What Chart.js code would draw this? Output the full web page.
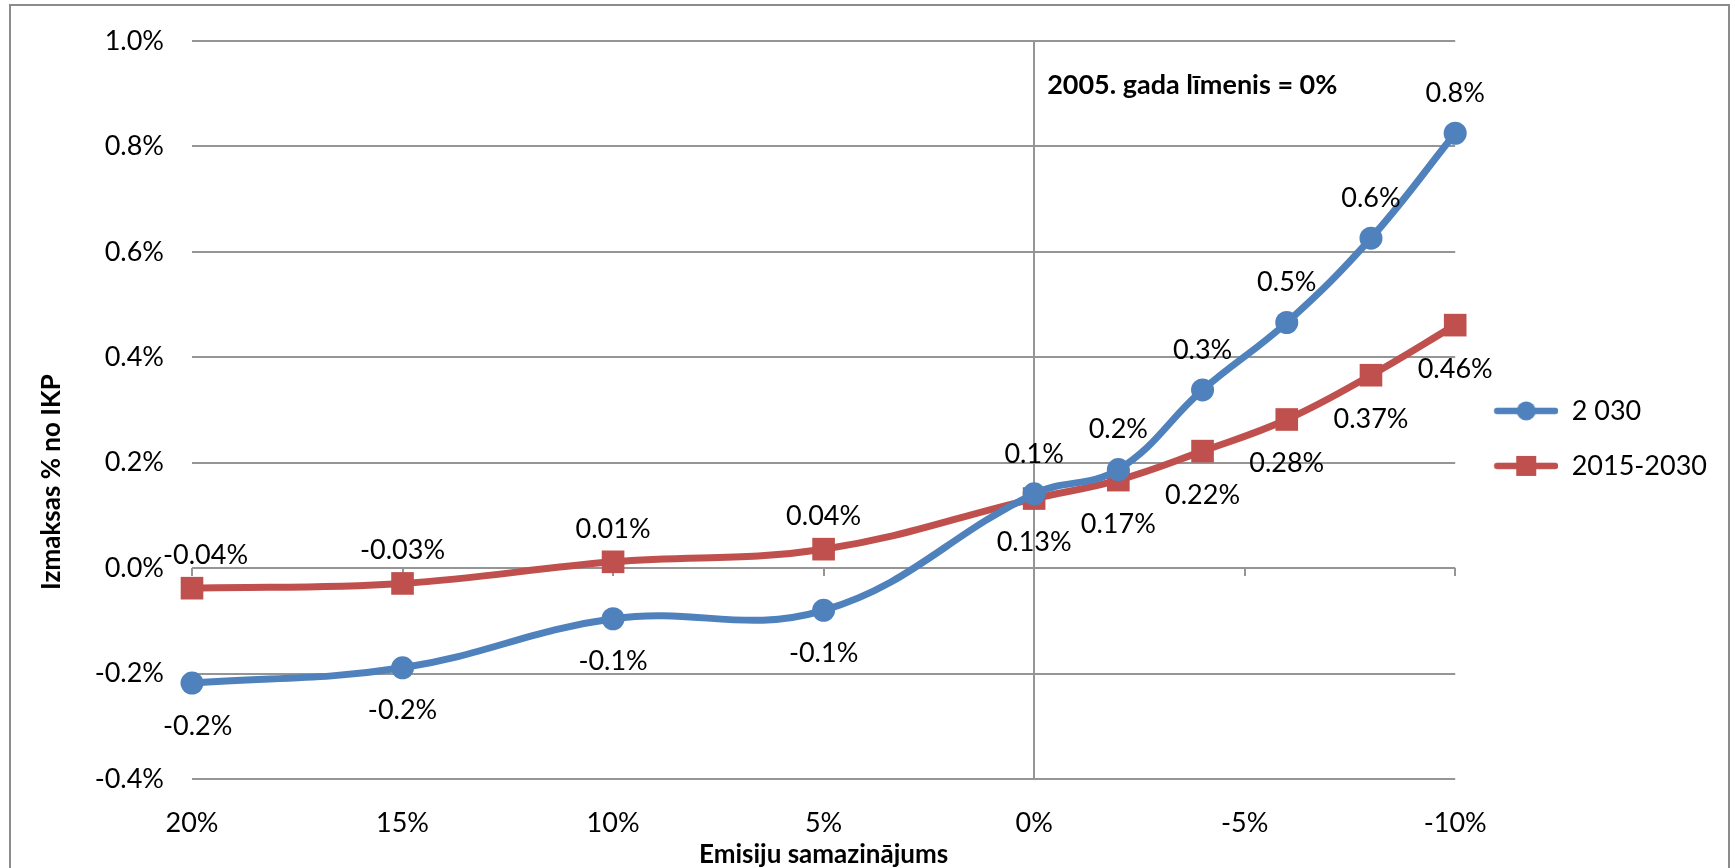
<!DOCTYPE html>
<html>
<head>
<meta charset="utf-8">
<script src="https://cdn.jsdelivr.net/npm/chart.js@4.4.1/dist/chart.umd.min.js"></script>
<style>
  html, body { margin: 0; padding: 0; background: #ffffff; }
  canvas { display: block; }
</style>
</head>
<body>
<canvas id="chart" width="1735" height="868"></canvas>
<script>
// Emission reduction relative to 2005 (percent) and cost as % of GDP
const emissionCuts = [20, 15, 10, 5, 0, -2, -4, -6, -8, -10];
const cost2030 = [-0.218, -0.189, -0.096, -0.080, 0.141, 0.187, 0.338, 0.466, 0.626, 0.825];
const cost2015to2030 = [-0.038, -0.029, 0.012, 0.036, 0.132, 0.167, 0.222, 0.282, 0.366, 0.461];
const seriesNames = ['2 030', '2015-2030'];
const xAxisTitle = 'Emisiju samazinājums';
const yAxisTitle = 'Izmaksas % no IKP';
const baselineNote = '2005. gada līmenis = 0%';

const BLUE = '#4F81BD';
const RED = '#C0504D';
const GRID = '#959595';
const FAMILY = 'Lato, "Open Sans", "DejaVu Sans", sans-serif';
const TEXT_SIZE = 27;

function toPoints(values) {
  return emissionCuts.map((x, i) => ({ x: x, y: values[i] }));
}

// Legend swatch: short line with the series marker on top (left part kept empty as a gap)
const SWATCH_W = 75;
function legendSwatch(color, marker) {
  const c = document.createElement('canvas');
  c.width = SWATCH_W; c.height = 24;
  const g = c.getContext('2d');
  const x0 = SWATCH_W - 64;
  g.strokeStyle = color;
  g.lineWidth = 6.5;
  g.lineCap = 'round';
  g.beginPath(); g.moveTo(x0 + 3, 12); g.lineTo(x0 + 61, 12); g.stroke();
  g.fillStyle = color;
  if (marker === 'circle') {
    g.beginPath(); g.arc(x0 + 32, 12, 9.5, 0, Math.PI * 2); g.fill();
  } else {
    g.fillRect(x0 + 22, 2, 20, 20);
  }
  return c;
}
const swatches = [legendSwatch(BLUE, 'circle'), legendSwatch(RED, 'rect')];

// Outer frame of the chart
const frame = {
  id: 'frame',
  beforeDraw(chart) {
    const ctx = chart.ctx;
    ctx.save();
    ctx.fillStyle = '#ffffff';
    ctx.fillRect(0, 0, chart.width, chart.height);
    ctx.strokeStyle = '#8c8c8c';
    ctx.lineWidth = 2;
    ctx.strokeRect(10, 5, chart.width - 16, chart.height + 40);
    ctx.restore();
  }
};

// Value labels above / below each marker
const valueLabels = {
  id: 'valueLabels',
  afterDatasetsDraw(chart, args, opts) {
    const ctx = chart.ctx;
    const minLeft = chart.chartArea.left - 29;
    ctx.save();
    ctx.font = TEXT_SIZE + 'px ' + FAMILY;
    ctx.fillStyle = '#000000';
    ctx.textAlign = 'center';
    ctx.textBaseline = 'middle';
    chart.data.datasets.forEach((ds, di) => {
      const meta = chart.getDatasetMeta(di);
      meta.data.forEach((pt, i) => {
        const v = ds.data[i];
        const text = v.y.toFixed(opts.decimals[di]) + '%';
        const half = ctx.measureText(text).width / 2;
        const above = opts.above[di](v.x);
        const y = above ? pt.y - opts.offsetAbove[di] : pt.y + opts.offsetBelow[di];
        const x = Math.max(pt.x, minLeft + half);
        ctx.fillText(text, x, y);
      });
    });
    ctx.restore();
  }
};

// Vertical axis title and the baseline note
const notes = {
  id: 'notes',
  afterDraw(chart) {
    const ctx = chart.ctx;
    const area = chart.chartArea;
    const xs = chart.scales.x;
    const ys = chart.scales.y;
    ctx.save();
    ctx.fillStyle = '#000000';
    ctx.font = 'bold 27px ' + FAMILY;
    ctx.textAlign = 'left';
    ctx.textBaseline = 'alphabetic';
    ctx.fillText(baselineNote, xs.getPixelForValue(0) + 13, ys.getPixelForValue(0.9));

    ctx.font = 'bold 26px ' + FAMILY;
    ctx.translate(52, (area.top + area.bottom) / 2 + 72);
    ctx.rotate(-Math.PI / 2);
    ctx.textAlign = 'center';
    ctx.textBaseline = 'middle';
    ctx.fillText(yAxisTitle, 0, 0);
    ctx.restore();
  }
};

const tickFont = { family: FAMILY, size: TEXT_SIZE };

new Chart(document.getElementById('chart'), {
  type: 'line',
  data: {
    datasets: [
      {
        label: seriesNames[0],
        data: toPoints(cost2030),
        borderColor: BLUE,
        backgroundColor: BLUE,
        borderWidth: 7,
        pointStyle: 'circle',
        pointRadius: 11.5,
        pointHoverRadius: 11.5,
        pointBorderWidth: 0,
        tension: 0.4,
        clip: false
      },
      {
        label: seriesNames[1],
        data: toPoints(cost2015to2030),
        borderColor: RED,
        backgroundColor: RED,
        borderWidth: 7,
        pointStyle: 'rect',
        pointRadius: 16,
        pointHoverRadius: 16,
        pointBorderWidth: 0,
        tension: 0.4,
        clip: false
      }
    ]
  },
  options: {
    responsive: false,
    animation: false,
    devicePixelRatio: 1,
    events: [],
    layout: { padding: { top: 41, right: 18, bottom: 0, left: 0 } },
    scales: {
      x: {
        type: 'linear',
        reverse: true,
        min: -10,
        max: 20,
        ticks: {
          stepSize: 5,
          padding: 28,
          font: tickFont,
          color: '#000000',
          callback: v => v + '%'
        },
        grid: {
          color: c => (c.tick && c.tick.value === 0 ? GRID : 'rgba(0,0,0,0)'),
          lineWidth: 2,
          drawTicks: false
        },
        border: { display: false },
        title: {
          display: true,
          text: xAxisTitle,
          color: '#000000',
          font: { family: FAMILY, size: 26, weight: 'bold', lineHeight: 1 },
          padding: { top: 0, bottom: 0 }
        },
        afterFit(scale) { scale.height = 89; }
      },
      xTicks: {
        axis: 'x',
        type: 'linear',
        reverse: true,
        min: -10,
        max: 20,
        position: { y: 0 },
        ticks: { stepSize: 5, display: false },
        grid: { drawOnChartArea: false, drawTicks: true, tickLength: 8, color: GRID, lineWidth: 2 },
        border: { display: false }
      },
      y: {
        min: -0.4,
        max: 1.0,
        ticks: {
          stepSize: 0.2,
          padding: 28,
          font: tickFont,
          color: '#000000',
          callback: v => (Math.abs(v) < 1e-9 ? 0 : v).toFixed(1) + '%'
        },
        grid: { color: GRID, lineWidth: 2, drawTicks: false },
        border: { display: false },
        afterFit(scale) {
          scale.width = 192;
          scale.paddingTop = 0;
          scale.paddingBottom = 0;
        }
      }
    },
    plugins: {
      tooltip: { enabled: false },
      legend: {
        position: 'right',
        align: 'start',
        title: { display: true, text: '', padding: { top: 314, bottom: 0 } },
        labels: {
          usePointStyle: true,
          pointStyleWidth: SWATCH_W,
          font: tickFont,
          color: '#000000',
          padding: 28,
          generateLabels(chart) {
            const items = Chart.defaults.plugins.legend.labels.generateLabels(chart);
            items.forEach((it, i) => { it.pointStyle = swatches[i]; });
            return items;
          }
        }
      },
      valueLabels: {
        decimals: [1, 2],
        above: [x => x <= 0, x => x > 0],
        offsetAbove: [40, 33],
        offsetBelow: [43, 44]
      }
    }
  },
  plugins: [frame, valueLabels, notes]
});
</script>
</body>
</html>
